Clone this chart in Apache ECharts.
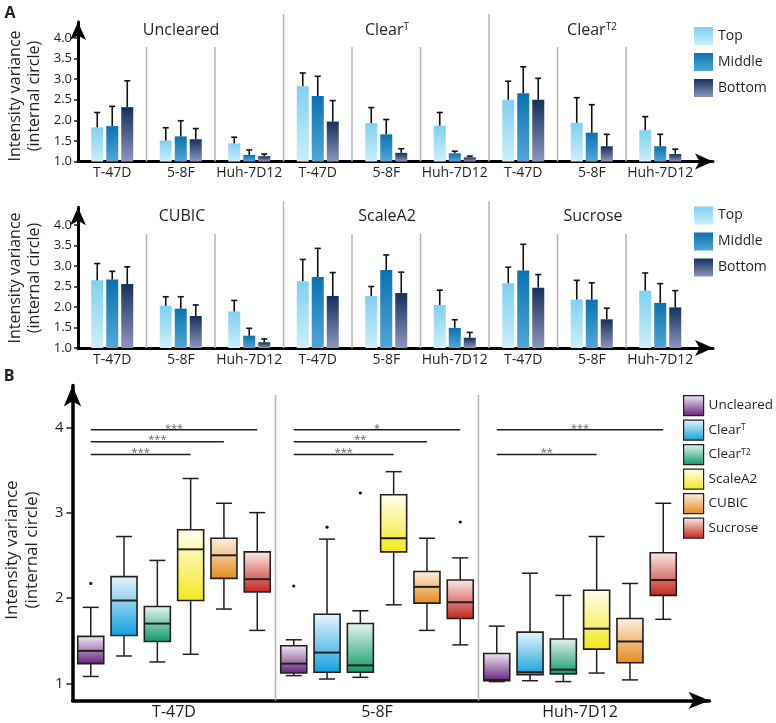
<!DOCTYPE html>
<html><head><meta charset="utf-8">
<script src="https://cdn.jsdelivr.net/npm/echarts@6/dist/echarts.min.js"></script>
<style>html,body{margin:0;padding:0;background:#fff}#c{width:776px;height:723px}</style>
</head><body><div id="c"></div>
<script>
// ---------- DATA ----------
const cellLines = ['T-47D', '5-8F', 'Huh-7D12'];
const depths = ['Top', 'Middle', 'Bottom'];
const row1Methods = ['Uncleared', 'ClearT', 'ClearT2'];
const row2Methods = ['CUBIC', 'ScaleA2', 'Sucrose'];
// order: method1(T-47D,5-8F,Huh), method2(...), method3(...)
const row1TopMean    = [1.83, 1.51, 1.44, 2.83, 1.93, 1.87, 2.50, 1.94, 1.76];
const row1TopUpper   = [2.19, 1.82, 1.59, 3.15, 2.31, 2.19, 2.95, 2.55, 2.09];
const row1MidMean    = [1.86, 1.61, 1.16, 2.59, 1.66, 1.20, 2.66, 1.70, 1.37];
const row1MidUpper   = [2.34, 1.99, 1.28, 3.07, 2.02, 1.25, 3.30, 2.38, 1.66];
const row1BotMean    = [2.32, 1.54, 1.13, 1.97, 1.21, 1.10, 2.50, 1.37, 1.18];
const row1BotUpper   = [2.96, 1.80, 1.18, 2.48, 1.31, 1.13, 3.02, 1.66, 1.30];
const row2TopMean    = [2.65, 2.03, 1.89, 2.63, 2.27, 2.05, 2.58, 2.18, 2.40];
const row2TopUpper   = [3.06, 2.25, 2.16, 3.16, 2.50, 2.41, 2.97, 2.65, 2.83];
const row2MidMean    = [2.67, 1.96, 1.30, 2.73, 2.90, 1.49, 2.89, 2.18, 2.10];
const row2MidUpper   = [2.87, 2.25, 1.48, 3.43, 3.27, 1.69, 3.53, 2.59, 2.57];
const row2BotMean    = [2.56, 1.78, 1.14, 2.27, 2.34, 1.25, 2.47, 1.70, 1.99];
const row2BotUpper   = [2.98, 2.05, 1.22, 2.84, 2.85, 1.38, 2.79, 1.97, 2.40];

// Panel B box plots: [min, q1, median, q3, max] per cell line
const boxMethods = ['Uncleared', 'ClearT', 'ClearT2', 'ScaleA2', 'CUBIC', 'Sucrose'];
const boxUncleared = [[1.08,1.23,1.38,1.55,1.89],[1.09,1.12,1.23,1.44,1.51],[1.02,1.03,1.04,1.35,1.67]];
const boxClearT    = [[1.32,1.56,1.97,2.25,2.72],[1.05,1.13,1.36,1.81,2.69],[1.03,1.10,1.13,1.60,2.29]];
const boxClearT2   = [[1.25,1.49,1.70,1.90,2.44],[1.07,1.13,1.21,1.70,1.85],[1.02,1.11,1.16,1.52,2.03]];
const boxScaleA2   = [[1.34,1.97,2.57,2.80,3.40],[1.92,2.54,2.70,3.21,3.48],[1.12,1.40,1.64,2.09,2.72]];
const boxCUBIC     = [[1.87,2.23,2.50,2.70,3.11],[1.62,1.94,2.13,2.31,2.70],[1.04,1.24,1.49,1.76,2.17]];
const boxSucrose   = [[1.62,2.07,2.22,2.54,3.00],[1.45,1.76,1.95,2.21,2.47],[1.75,2.03,2.21,2.53,3.11]];
// outliers: [cellLineIdx, methodIdx, value]
const outliers = [[0,0,2.17],[1,0,2.14],[1,1,2.83],[1,2,3.23],[1,5,2.89]];
// significance bars: from Uncleared to method idx
const sigCell   = [0, 0, 0, 1, 1, 1, 2, 2];
const sigTo     = [5, 4, 3, 5, 4, 3, 5, 3];
const sigY      = [3.97, 3.83, 3.68, 3.97, 3.83, 3.68, 3.97, 3.68];
const sigText   = ['***','***','***','*','**','***','***','**'];

// ---------- STYLE ----------
const FF = '"Open Sans", "Noto Sans", sans-serif';
const INK = '#231f20';
const grad = (a, b) => new echarts.graphic.LinearGradient(0, 0, 0, 1, [{offset:0,color:a},{offset:1,color:b}]);
const depthColors = [['#7fd0f0','#cdeefa'], ['#0b72b1','#52a6d8'], ['#15305a','#8e95bf']];
const boxColors = [['#f2ecf5','#651f79'], ['#eaf6fd','#12a0dc'], ['#e9f5ef','#0c9966'],
                   ['#fffff2','#f3e81a'], ['#fdf2e4','#e4891c'], ['#fbece8','#c4241c']];
const labelRich = (fs, ss) => ({n:{fontSize:fs, fontFamily:FF, color:INK}, s:{fontSize:ss, fontFamily:FF, color:INK, verticalAlign:'top'}});
const richName = n => n === 'ClearT' ? '{n|Clear}{s|T}' : n === 'ClearT2' ? '{n|Clear}{s|T2}' : '{n|' + n + '}';

const cats9 = m => { const a = []; m.forEach(mm => cellLines.forEach(c => a.push(mm + '|' + c))); return a; };

const chart = echarts.init(document.getElementById('c'), null, {renderer:'canvas'});

const rowMain = (grid) => ({
  x: {type:'category', gridIndex:grid, boundaryGap:true, axisLine:{show:false}, axisTick:{show:false},
      axisLabel:{formatter: v => v.split('|')[1], fontSize:14, fontFamily:FF, color:INK, margin:5, interval:0}, splitLine:{show:false}},
  y: {type:'value', gridIndex:grid, min:1, max:4, interval:0.5, axisLine:{show:false},
      axisTick:{show:true, length:4, lineStyle:{color:INK, width:1.5}},
      axisLabel:{formatter: v => v.toFixed(1), fontSize:13, fontFamily:FF, color:INK, margin:6}, splitLine:{show:false}}
});
const arrowAxis = (grid, min, max, w, size) => ({
  type:'value', gridIndex:grid, min:min, max:max, axisLabel:{show:false}, axisTick:{show:false}, splitLine:{show:false},
  axisLine:{show:true, onZero:false, symbol:['none','arrow'], symbolSize:size, lineStyle:{color:'#000', width:w}}
});

const r1 = rowMain(0), r2 = rowMain(2);
r1.x.data = cats9(row1Methods);
r2.x.data = cats9(row2Methods);

const xAxes = [
  r1.x,
  arrowAxis(1, 0, 9.27, 3, [12, 18]),
  r2.x,
  arrowAxis(3, 0, 9.27, 3, [12, 18]),
  {type:'category', gridIndex:4, data:cellLines, offset:17, axisLine:{show:false}, axisTick:{show:false},
   axisLabel:{fontSize:16, fontFamily:FF, color:INK, margin:4}, splitLine:{show:false}},
  arrowAxis(5, 0, 3.138, 3.5, [13, 21])
];
const yAxes = [
  r1.y,
  arrowAxis(1, 1, 4.388, 3, [12, 18]),
  r2.y,
  arrowAxis(3, 1, 4.43, 3, [12, 18]),
  {type:'value', gridIndex:4, min:1, max:4, interval:1, axisLine:{show:false},
   axisTick:{show:true, length:6, lineStyle:{color:INK, width:1.5}},
   axisLabel:{fontSize:15, fontFamily:FF, color:INK, margin:9}, splitLine:{show:false}},
  arrowAxis(5, 0.8, 4.49, 3.5, [13, 21])
];

// bar series + error bars
function barRow(xi, means, uppers) {
  const out = [];
  depths.forEach((d, di) => {
    out.push({type:'bar', name:d, xAxisIndex:xi, yAxisIndex:xi, data:means[di], barWidth:12, barGap:'25%',
      itemStyle:{color:grad(depthColors[di][0], depthColors[di][1])}, z:2});
  });
  const err = [];
  depths.forEach((d, di) => means[di].forEach((m, i) => err.push([i, m, uppers[di][i], di])));
  out.push({type:'custom', xAxisIndex:xi, yAxisIndex:xi, data:err, z:3, encode:{x:0, y:[1,2]},
    renderItem:(params, api) => {
      const i = api.value(0), di = api.value(3);
      const p0 = api.coord([i, api.value(1)]), p1 = api.coord([i, api.value(2)]);
      const x = p0[0] + (di - 1) * 15;
      const st = {stroke:'#111', lineWidth:1.6};
      return {type:'group', children:[
        {type:'line', shape:{x1:x, y1:p0[1], x2:x, y2:p1[1]}, style:st},
        {type:'line', shape:{x1:x-3, y1:p1[1], x2:x+3, y2:p1[1]}, style:st}
      ]};
    }});
  return out;
}

function separators(xi, bottom, full, short, count) {
  const d = [];
  for (let k = 1; k < count; k++) d.push([k, bottom, (k % 3 === 0 || count === 3) ? full : short]);
  return {type:'custom', xAxisIndex:xi, yAxisIndex:xi, data:d, z:1, silent:true, encode:{x:0, y:[1,2]},
    renderItem:(params, api) => {
      const a = api.coord([api.value(0), api.value(1)]), b = api.coord([api.value(0), api.value(2)]);
      return {type:'line', shape:{x1:a[0], y1:a[1], x2:b[0], y2:b[1]}, style:{stroke:'#b5b5b5', lineWidth:1.5}};
    }};
}

const boxSets = [boxUncleared, boxClearT, boxClearT2, boxScaleA2, boxCUBIC, boxSucrose];
const BOX_STEP = 33.3;
const boxSeries = boxMethods.map((m, mi) => ({
  type:'custom', name:m, xAxisIndex:4, yAxisIndex:4, z:3,
  itemStyle:{color:grad(boxColors[mi][0], boxColors[mi][1]), borderColor:INK, borderWidth:1},
  data: boxSets[mi].map((b, ci) => [ci].concat(b)),
  encode:{x:0, y:[1,2,3,4,5]},
  renderItem:(params, api) => {
    const c = api.value(0);
    const base = api.coord([c, api.value(1)]);
    const x = base[0] + (mi - 2.5) * BOX_STEP;
    const yMin = base[1];
    const yQ1 = api.coord([c, api.value(2)])[1];
    const yMed = api.coord([c, api.value(3)])[1];
    const yQ3 = api.coord([c, api.value(4)])[1];
    const yMax = api.coord([c, api.value(5)])[1];
    const hw = 13, cw = 8;
    const st = {stroke:INK, lineWidth:1.5};
    return {type:'group', children:[
      {type:'line', shape:{x1:x, y1:yMax, x2:x, y2:yQ3}, style:st},
      {type:'line', shape:{x1:x, y1:yQ1, x2:x, y2:yMin}, style:st},
      {type:'line', shape:{x1:x-cw, y1:yMax, x2:x+cw, y2:yMax}, style:st},
      {type:'line', shape:{x1:x-cw, y1:yMin, x2:x+cw, y2:yMin}, style:st},
      {type:'rect', shape:{x:x-hw, y:yQ3, width:2*hw, height:yQ1-yQ3},
       style:{fill:grad(boxColors[mi][0], boxColors[mi][1]), stroke:INK, lineWidth:1.6}},
      {type:'line', shape:{x1:x-hw, y1:yMed, x2:x+hw, y2:yMed}, style:{stroke:INK, lineWidth:2}}
    ]};
  }
}));

const outlierSeries = {type:'custom', xAxisIndex:4, yAxisIndex:4, z:4, data:outliers, encode:{x:0, y:2},
  renderItem:(params, api) => {
    const p = api.coord([api.value(0), api.value(2)]);
    return {type:'circle', shape:{cx:p[0] + (api.value(1) - 2.5) * BOX_STEP, cy:p[1], r:1.6}, style:{fill:'#111'}};
  }};

const sigSeries = {type:'custom', xAxisIndex:4, yAxisIndex:4, z:4,
  data: sigCell.map((c, i) => [c, sigTo[i], sigY[i]]), encode:{x:0, y:2},
  renderItem:(params, api) => {
    const p = api.coord([api.value(0), api.value(2)]);
    const x1 = p[0] + (0 - 2.5) * BOX_STEP, x2 = p[0] + (api.value(1) - 2.5) * BOX_STEP;
    return {type:'group', children:[
      {type:'line', shape:{x1:x1, y1:p[1], x2:x2, y2:p[1]}, style:{stroke:INK, lineWidth:1.5}},
      {type:'text', x:(x1 + x2) / 2, y:p[1] + 4, style:{text:sigText[params.dataIndex], fill:'#666', font:'11px ' + FF,
        align:'center', verticalAlign:'bottom', textAlign:'center', textVerticalAlign:'bottom'}}
    ]};
  }};

const legendA = top => ({
  orient:'vertical', left:694, top:top, padding:0, itemWidth:19, itemHeight:18, itemGap:8, selectedMode:false,
  textStyle:{fontSize:14, fontFamily:FF, color:INK},
  data: depths.map((d, di) => ({name:d, icon:'rect', itemStyle:{color:grad(depthColors[di][0], depthColors[di][1]), borderWidth:0}}))
});

const txt = (x, y, text, size, extra) => Object.assign({type:'text', x:x, y:y, silent:true, style:Object.assign({
  text:text, fill:INK, font:size + 'px ' + FF, align:'center', verticalAlign:'middle', textAlign:'center', textVerticalAlign:'middle'
}, extra || {})});
const richTxt = (x, y, name, size) => ({type:'text', x:x, y:y, silent:true, style:{
  text:richName(name), rich:labelRich(size, 10), fill:INK, font:size + 'px ' + FF,
  align:'center', verticalAlign:'middle', textAlign:'center', textVerticalAlign:'middle'}});
const yName = (x, y, size, lh) => ({type:'text', x:x, y:y, rotation:Math.PI / 2, silent:true, style:{
  text:'Intensity variance\n(internal circle)', fill:INK, font:size + 'px ' + FF, lineHeight:lh,
  align:'center', verticalAlign:'middle', textAlign:'center', textVerticalAlign:'middle'}});

const option = {
  animation:false,
  backgroundColor:'#fff',
  grid:[
    {left:78, top:38, width:616.5, height:123.5, outerBoundsMode:'none', containLabel:false},
    {left:78, top:22, width:635, height:139.5, outerBoundsMode:'none', containLabel:false},
    {left:78, top:225, width:616.5, height:123, outerBoundsMode:'none', containLabel:false},
    {left:78, top:207.3, width:635, height:140.7, outerBoundsMode:'none', containLabel:false},
    {left:72.5, top:427.3, width:609, height:256, outerBoundsMode:'none', containLabel:false},
    {left:72.5, top:385.5, width:637, height:314.9, outerBoundsMode:'none', containLabel:false}
  ],
  xAxis:xAxes,
  yAxis:yAxes,
  legend:[
    legendA(27),
    legendA(206.5),
    {orient:'vertical', left:683, top:395, padding:0, itemWidth:20, itemHeight:20, itemGap:3.3, selectedMode:false,
     formatter: n => richName(n),
     textStyle:{fontSize:13.5, fontFamily:FF, color:INK, rich:labelRich(13.5, 8.5)},
     data: boxMethods.map((m, mi) => ({name:m, icon:'rect',
       itemStyle:{color:grad(boxColors[mi][0], boxColors[mi][1]), borderColor:INK, borderWidth:1.2}}))}
  ],
  series: [].concat(
    barRow(0, [row1TopMean, row1MidMean, row1BotMean], [row1TopUpper, row1MidUpper, row1BotUpper]),
    barRow(2, [row2TopMean, row2MidMean, row2BotMean], [row2TopUpper, row2MidUpper, row2BotUpper]),
    [separators(1, 1, 4.58, 3.78, 9), separators(3, 1, 4.58, 3.78, 9), separators(5, 0.8, 4.38, 4.38, 3)],
    boxSeries, [outlierSeries, sigSeries]
  ),
  graphic:[
    txt(10, 13, 'A', 16, {font:'bold 16px ' + FF}),
    txt(9, 376, 'B', 16, {font:'bold 16px ' + FF}),
    txt(181, 30, 'Uncleared', 16),
    richTxt(387, 30, 'ClearT', 16),
    richTxt(592, 30, 'ClearT2', 16),
    txt(182, 216, 'CUBIC', 16),
    txt(387, 216, 'ScaleA2', 16),
    txt(593, 216, 'Sucrose', 16),
    yName(25, 96, 16, 19),
    yName(25, 278, 16, 19),
    yName(22, 550, 17, 20)
  ]
};
chart.setOption(option);
</script></body></html>
